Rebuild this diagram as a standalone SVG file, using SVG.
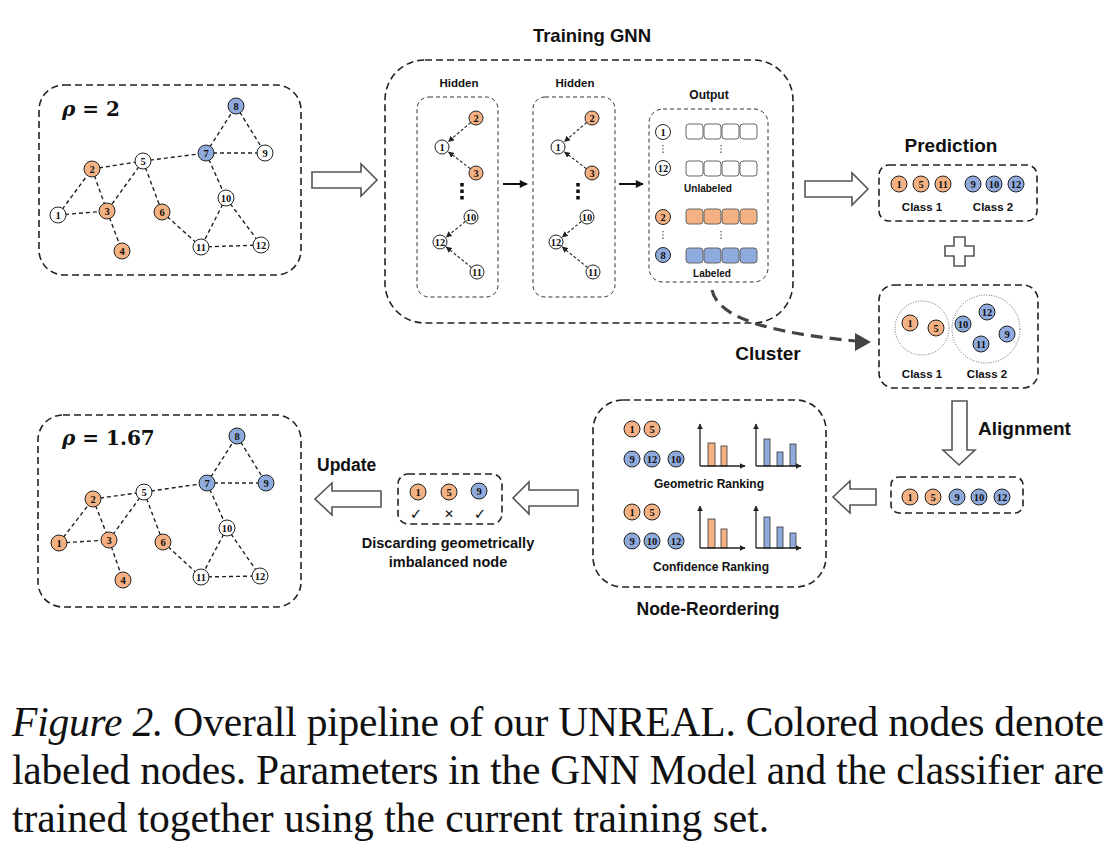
<svg xmlns="http://www.w3.org/2000/svg" width="1116" height="854" viewBox="0 0 1116 854">
<defs>
<style>
.box{fill:none;stroke:#222;stroke-width:1.6;stroke-dasharray:7 4}
.sbox{fill:none;stroke:#333;stroke-width:1;stroke-dasharray:4 3}
.edge{stroke:#222;stroke-width:1.4;stroke-dasharray:4 3;fill:none}
.harr{stroke:#222;stroke-width:1.1;stroke-dasharray:3 2;fill:none}
.nw{fill:#fff;stroke:#222;stroke-width:1}
.no{fill:#F4B183;stroke:#222;stroke-width:1}
.nb{fill:#8FAADC;stroke:#222;stroke-width:1}
.nl{font-family:"Liberation Serif","Times New Roman",serif;font-weight:bold;font-size:10.5px;text-anchor:middle;fill:#111}
.t{font-family:"Liberation Sans",Arial,sans-serif;font-weight:bold;fill:#111;text-anchor:middle}
.hollow{fill:#fff;stroke:#555;stroke-width:1.6;stroke-linejoin:miter}
.sqw{fill:#fff;stroke:#666;stroke-width:1}
.sqo{fill:#F4B183;stroke:#666;stroke-width:1}
.sqb{fill:#8FAADC;stroke:#666;stroke-width:1}
.dots{stroke:#444;stroke-width:1.2;stroke-dasharray:1.3 2}
.axis{stroke:#222;stroke-width:1.3;fill:none}
.bo{fill:#F4B183;stroke:#333;stroke-width:0.8}
.bb{fill:#8FAADC;stroke:#333;stroke-width:0.8}
.cap{font-family:"Liberation Serif","Times New Roman",serif;font-size:41.5px;fill:#111}
.rho{font-family:"DejaVu Serif","Liberation Serif",serif;font-weight:bold;font-size:20px;fill:#111}
.mk{font-family:"DejaVu Sans",sans-serif;font-weight:bold;text-anchor:middle;fill:#111}
</style>
<marker id="ah" viewBox="0 0 10 10" refX="9" refY="5" markerWidth="6" markerHeight="6" orient="auto" markerUnits="userSpaceOnUse"><path d="M0,0 L10,5 L0,10 z" fill="#222"/></marker>
<marker id="ah2" viewBox="0 0 10 10" refX="9" refY="5" markerWidth="9" markerHeight="8" orient="auto" markerUnits="userSpaceOnUse"><path d="M0,0 L10,5 L0,10 z" fill="#111"/></marker>
<marker id="ax" viewBox="0 0 10 10" refX="9" refY="5" markerWidth="6" markerHeight="6" orient="auto" markerUnits="userSpaceOnUse"><path d="M0,0 L10,5 L0,10 z" fill="#222"/></marker>
</defs>
<rect width="1116" height="854" fill="#fff"/>

<!-- boxes -->
<g id="graph-initial-box"><rect class="box" x="39" y="85" width="262" height="190" rx="25"/>
<text class="rho" x="62" y="116"><tspan font-style="italic">ρ</tspan> = 2</text></g>
<g id="graph-updated-box"><rect class="box" x="38" y="415" width="263" height="192" rx="25"/>
<text class="rho" x="62" y="445"><tspan font-style="italic">ρ</tspan> = 1.67</text></g>
<g id="training-gnn"><rect class="box" x="385" y="60" width="408" height="263" rx="40"/>
<text class="t" x="592" y="42" font-size="18.5">Training GNN</text></g>
<g id="hidden1"><rect class="sbox" x="417" y="97" width="81" height="200" rx="12"/>
<text class="t" x="459" y="87" font-size="11.5">Hidden</text></g>
<g id="hidden2"><rect class="sbox" x="533" y="97" width="82" height="200" rx="12"/>
<text class="t" x="575" y="87" font-size="11.5">Hidden</text></g>
<g id="output"><rect class="sbox" x="649" y="109" width="119" height="173" rx="14"/>
<text class="t" x="709" y="99" font-size="12">Output</text>
<rect class="sqw" x="686" y="124" width="17" height="15" rx="3"/><rect class="sqw" x="704" y="124" width="17" height="15" rx="3"/><rect class="sqw" x="722" y="124" width="17" height="15" rx="3"/><rect class="sqw" x="740" y="124" width="17" height="15" rx="3"/>
<rect class="sqw" x="686" y="161" width="17" height="15" rx="3"/><rect class="sqw" x="704" y="161" width="17" height="15" rx="3"/><rect class="sqw" x="722" y="161" width="17" height="15" rx="3"/><rect class="sqw" x="740" y="161" width="17" height="15" rx="3"/>
<rect class="sqo" x="686" y="209" width="17" height="15" rx="3"/><rect class="sqo" x="704" y="209" width="17" height="15" rx="3"/><rect class="sqo" x="722" y="209" width="17" height="15" rx="3"/><rect class="sqo" x="740" y="209" width="17" height="15" rx="3"/>
<rect class="sqb" x="686" y="248" width="17" height="15" rx="3"/><rect class="sqb" x="704" y="248" width="17" height="15" rx="3"/><rect class="sqb" x="722" y="248" width="17" height="15" rx="3"/><rect class="sqb" x="740" y="248" width="17" height="15" rx="3"/>
<line class="dots" x1="663" y1="145" x2="663" y2="155"/><line class="dots" x1="663" y1="231" x2="663" y2="241"/>
<line class="dots" x1="721" y1="145" x2="721" y2="155"/><line class="dots" x1="721" y1="231" x2="721" y2="241"/>
<text class="t" x="708" y="192" font-size="10">Unlabeled</text>
<text class="t" x="712" y="277" font-size="10">Labeled</text></g>
<g id="prediction"><rect class="box" x="879" y="165" width="158" height="56" rx="10"/>
<text class="t" x="951" y="152" font-size="19">Prediction</text>
<text class="t" x="922" y="211" font-size="11.5">Class 1</text>
<text class="t" x="993" y="211" font-size="11.5">Class 2</text></g>
<g id="plus"><path class="hollow" d="M954,237 H965 V246 H974 V256 H965 V266 H954 V256 H945 V246 H954 Z"/></g>
<g id="cluster"><rect class="box" x="879" y="285" width="159" height="103" rx="15"/>
<circle cx="922" cy="328" r="27" fill="none" stroke="#666" stroke-width="1" stroke-dasharray="1 1.5"/>
<circle cx="986" cy="329" r="34" fill="none" stroke="#666" stroke-width="1" stroke-dasharray="1 1.5"/>
<text class="t" x="922" y="378" font-size="11.5">Class 1</text>
<text class="t" x="987" y="378" font-size="11.5">Class 2</text></g>
<g id="cluster-label"><text class="t" x="768" y="360" font-size="19">Cluster</text></g>
<g id="alignment-label"><text class="t" x="978" y="435" font-size="19" style="text-anchor:start">Alignment</text></g>
<g id="aligned"><rect class="box" x="891" y="477" width="132" height="36" rx="8"/></g>
<g id="node-reordering"><rect class="box" x="593" y="400" width="233" height="187" rx="30"/>
<text class="t" x="708" y="615" font-size="17.5">Node-Reordering</text>
<text class="t" x="709" y="488" font-size="12">Geometric Ranking</text>
<text class="t" x="711" y="571" font-size="12">Confidence Ranking</text>
<rect class="bo" x="708" y="443" width="7" height="23"/><rect class="bo" x="721" y="446" width="6" height="20"/>
<rect class="bb" x="764" y="439" width="6" height="27"/><rect class="bb" x="777" y="452" width="6" height="14"/><rect class="bb" x="790" y="444" width="6" height="22"/>
<rect class="bo" x="708" y="519" width="7" height="29"/><rect class="bo" x="721" y="529" width="6" height="19"/>
<rect class="bb" x="764" y="517" width="6" height="31"/><rect class="bb" x="777" y="527" width="6" height="21"/><rect class="bb" x="790" y="533" width="6" height="15"/>
<path class="axis" d="M700,466 V424" marker-end="url(#ax)"/><path class="axis" d="M700,466 H745" marker-end="url(#ax)"/>
<path class="axis" d="M756,466 V424" marker-end="url(#ax)"/><path class="axis" d="M756,466 H801" marker-end="url(#ax)"/>
<path class="axis" d="M700,548 V506" marker-end="url(#ax)"/><path class="axis" d="M700,548 H745" marker-end="url(#ax)"/>
<path class="axis" d="M756,548 V506" marker-end="url(#ax)"/><path class="axis" d="M756,548 H801" marker-end="url(#ax)"/>
</g>
<g id="discarding"><rect class="box" x="398" y="474" width="104" height="50" rx="10"/>
<text class="mk" x="416" y="519" font-size="15">✓</text>
<text class="mk" x="449" y="518" font-size="12">✕</text>
<text class="mk" x="480" y="519" font-size="15">✓</text>
<text class="t" x="448" y="548" font-size="14.5">Discarding geometrically</text>
<text class="t" x="448" y="567" font-size="14.5">imbalanced node</text></g>
<g id="update-label"><text class="t" x="317" y="471" font-size="17.5" style="text-anchor:start">Update</text></g>

<!-- connectors -->
<g id="connectors">
<g id="edges-initial">
<line class="edge" x1="58" y1="215" x2="92" y2="169"/><line class="edge" x1="58" y1="215" x2="107" y2="211"/>
<line class="edge" x1="92" y1="169" x2="107" y2="211"/><line class="edge" x1="92" y1="169" x2="143" y2="161"/>
<line class="edge" x1="143" y1="161" x2="107" y2="211"/><line class="edge" x1="143" y1="161" x2="162" y2="212"/>
<line class="edge" x1="143" y1="161" x2="206" y2="153"/><line class="edge" x1="107" y1="211" x2="122" y2="251"/>
<line class="edge" x1="162" y1="212" x2="201" y2="247"/><line class="edge" x1="206" y1="153" x2="236" y2="106"/>
<line class="edge" x1="236" y1="106" x2="265" y2="153"/><line class="edge" x1="206" y1="153" x2="265" y2="153"/>
<line class="edge" x1="206" y1="153" x2="226" y2="198"/><line class="edge" x1="226" y1="198" x2="201" y2="247"/>
<line class="edge" x1="226" y1="198" x2="261" y2="245"/><line class="edge" x1="201" y1="247" x2="261" y2="245"/>
</g>
<g id="edges-updated">
<line class="edge" x1="59" y1="543" x2="93" y2="499"/><line class="edge" x1="59" y1="543" x2="109" y2="540"/>
<line class="edge" x1="93" y1="499" x2="109" y2="540"/><line class="edge" x1="93" y1="499" x2="144" y2="492"/>
<line class="edge" x1="144" y1="492" x2="109" y2="540"/><line class="edge" x1="144" y1="492" x2="163" y2="542"/>
<line class="edge" x1="144" y1="492" x2="207" y2="483"/><line class="edge" x1="109" y1="540" x2="123" y2="580"/>
<line class="edge" x1="163" y1="542" x2="201" y2="577"/><line class="edge" x1="207" y1="483" x2="237" y2="436"/>
<line class="edge" x1="237" y1="436" x2="266" y2="483"/><line class="edge" x1="207" y1="483" x2="266" y2="483"/>
<line class="edge" x1="207" y1="483" x2="227" y2="528"/><line class="edge" x1="227" y1="528" x2="201" y2="577"/>
<line class="edge" x1="227" y1="528" x2="260" y2="576"/><line class="edge" x1="201" y1="577" x2="260" y2="576"/>
</g>
<g id="hidden-arrows-1">
<line class="harr" x1="470.7" y1="122.5" x2="448.5" y2="141.5" marker-end="url(#ah)"/>
<line class="harr" x1="470.4" y1="168.7" x2="448.6" y2="152" marker-end="url(#ah)"/>
<line class="harr" x1="465.5" y1="221.4" x2="446.3" y2="237" marker-end="url(#ah)"/>
<line class="harr" x1="471.6" y1="267.6" x2="446.3" y2="247" marker-end="url(#ah)"/>
<line x1="462" y1="183" x2="462" y2="201" stroke="#111" stroke-width="3.5" stroke-dasharray="3.5 3"/>
</g>
<g id="hidden-arrows-2" transform="translate(116,0)">
<line class="harr" x1="470.7" y1="122.5" x2="448.5" y2="141.5" marker-end="url(#ah)"/>
<line class="harr" x1="470.4" y1="168.7" x2="448.6" y2="152" marker-end="url(#ah)"/>
<line class="harr" x1="465.5" y1="221.4" x2="446.3" y2="237" marker-end="url(#ah)"/>
<line class="harr" x1="471.6" y1="267.6" x2="446.3" y2="247" marker-end="url(#ah)"/>
<line x1="462" y1="183" x2="462" y2="201" stroke="#111" stroke-width="3.5" stroke-dasharray="3.5 3"/>
</g>
<line x1="503" y1="184" x2="527" y2="184" stroke="#111" stroke-width="2" marker-end="url(#ah2)"/>
<line x1="619" y1="184" x2="643" y2="184" stroke="#111" stroke-width="2" marker-end="url(#ah2)"/>
<polygon class="hollow" points="312,172 361,172 361,164 377,180 361,196 361,188 312,188"/>
<polygon class="hollow" points="805,181 852,181 852,173 868,189 852,205 852,197 805,197"/>
<polygon class="hollow" points="952,401 967,401 967,450 975,450 959,465 943,450 952,450"/>
<polygon class="hollow" points="876,489 850,489 850,481 833,497 850,513 850,505 876,505"/>
<polygon class="hollow" points="578,490 529,490 529,482 513,498 529,514 529,506 578,506"/>
<polygon class="hollow" points="381,491 332,491 332,483 315,499 332,515 332,507 381,507"/>
<path d="M712,290 C718,318 770,333 856,341" fill="none" stroke="#444" stroke-width="3.2" stroke-dasharray="12 7"/>
<polygon points="871,342 855,333 855,351" fill="#444"/>
</g>

<!-- nodes initial graph -->
<g id="g1-n1"><circle class="nw" cx="58" cy="215" r="8"/><text class="nl" x="58" y="218.5">1</text></g>
<g id="g1-n2"><circle class="no" cx="92" cy="169" r="8"/><text class="nl" x="92" y="172.5">2</text></g>
<g id="g1-n3"><circle class="no" cx="107" cy="211" r="8"/><text class="nl" x="107" y="214.5">3</text></g>
<g id="g1-n4"><circle class="no" cx="122" cy="251" r="8"/><text class="nl" x="122" y="254.5">4</text></g>
<g id="g1-n5"><circle class="nw" cx="143" cy="161" r="8"/><text class="nl" x="143" y="164.5">5</text></g>
<g id="g1-n6"><circle class="no" cx="162" cy="212" r="8"/><text class="nl" x="162" y="215.5">6</text></g>
<g id="g1-n7"><circle class="nb" cx="206" cy="153" r="8"/><text class="nl" x="206" y="156.5">7</text></g>
<g id="g1-n8"><circle class="nb" cx="236" cy="106" r="8"/><text class="nl" x="236" y="109.5">8</text></g>
<g id="g1-n9"><circle class="nw" cx="265" cy="153" r="8"/><text class="nl" x="265" y="156.5">9</text></g>
<g id="g1-n10"><circle class="nw" cx="226" cy="198" r="8"/><text class="nl" x="226" y="201.5">10</text></g>
<g id="g1-n11"><circle class="nw" cx="201" cy="247" r="8"/><text class="nl" x="201" y="250.5">11</text></g>
<g id="g1-n12"><circle class="nw" cx="261" cy="245" r="8"/><text class="nl" x="261" y="248.5">12</text></g>

<!-- nodes updated graph -->
<g id="g2-n1"><circle class="no" cx="59" cy="543" r="8"/><text class="nl" x="59" y="546.5">1</text></g>
<g id="g2-n2"><circle class="no" cx="93" cy="499" r="8"/><text class="nl" x="93" y="502.5">2</text></g>
<g id="g2-n3"><circle class="no" cx="109" cy="540" r="8"/><text class="nl" x="109" y="543.5">3</text></g>
<g id="g2-n4"><circle class="no" cx="123" cy="580" r="8"/><text class="nl" x="123" y="583.5">4</text></g>
<g id="g2-n5"><circle class="nw" cx="144" cy="492" r="8"/><text class="nl" x="144" y="495.5">5</text></g>
<g id="g2-n6"><circle class="no" cx="163" cy="542" r="8"/><text class="nl" x="163" y="545.5">6</text></g>
<g id="g2-n7"><circle class="nb" cx="207" cy="483" r="8"/><text class="nl" x="207" y="486.5">7</text></g>
<g id="g2-n8"><circle class="nb" cx="237" cy="436" r="8"/><text class="nl" x="237" y="439.5">8</text></g>
<g id="g2-n9"><circle class="nb" cx="266" cy="483" r="8"/><text class="nl" x="266" y="486.5">9</text></g>
<g id="g2-n10"><circle class="nw" cx="227" cy="528" r="8"/><text class="nl" x="227" y="531.5">10</text></g>
<g id="g2-n11"><circle class="nw" cx="201" cy="577" r="8"/><text class="nl" x="201" y="580.5">11</text></g>
<g id="g2-n12"><circle class="nw" cx="260" cy="576" r="8"/><text class="nl" x="260" y="579.5">12</text></g>

<!-- hidden layer nodes -->
<g id="h1-nodes">
<circle class="no" cx="476" cy="118" r="7"/><text class="nl" x="476" y="121.5">2</text>
<circle class="nw" cx="442" cy="147" r="7"/><text class="nl" x="442" y="150.5">1</text>
<circle class="no" cx="476" cy="173" r="7"/><text class="nl" x="476" y="176.5">3</text>
<circle class="nw" cx="471" cy="217" r="7"/><text class="nl" x="471" y="220.5" font-size="9.5">10</text>
<circle class="nw" cx="440" cy="242" r="7"/><text class="nl" x="440" y="245.5" font-size="9.5">12</text>
<circle class="nw" cx="477" cy="272" r="7"/><text class="nl" x="477" y="275.5" font-size="9.5">11</text>
</g>
<g id="h2-nodes" transform="translate(116,0)">
<circle class="no" cx="476" cy="118" r="7"/><text class="nl" x="476" y="121.5">2</text>
<circle class="nw" cx="442" cy="147" r="7"/><text class="nl" x="442" y="150.5">1</text>
<circle class="no" cx="476" cy="173" r="7"/><text class="nl" x="476" y="176.5">3</text>
<circle class="nw" cx="471" cy="217" r="7"/><text class="nl" x="471" y="220.5" font-size="9.5">10</text>
<circle class="nw" cx="440" cy="242" r="7"/><text class="nl" x="440" y="245.5" font-size="9.5">12</text>
<circle class="nw" cx="477" cy="272" r="7"/><text class="nl" x="477" y="275.5" font-size="9.5">11</text>
</g>
<g id="out-nodes">
<circle class="nw" cx="663" cy="132" r="7.5"/><text class="nl" x="663" y="135.5">1</text>
<circle class="nw" cx="663" cy="168" r="7.5"/><text class="nl" x="663" y="171.5" font-size="9.5">12</text>
<circle class="no" cx="663" cy="217" r="7.5"/><text class="nl" x="663" y="220.5">2</text>
<circle class="nb" cx="663" cy="255" r="7.5"/><text class="nl" x="663" y="258.5">8</text>
</g>
<g id="pred-nodes">
<circle class="no" cx="899" cy="184" r="8"/><text class="nl" x="899" y="187.5">1</text>
<circle class="no" cx="921" cy="184" r="8"/><text class="nl" x="921" y="187.5">5</text>
<circle class="no" cx="943" cy="184" r="8"/><text class="nl" x="943" y="187.5">11</text>
<circle class="nb" cx="973" cy="184" r="8"/><text class="nl" x="973" y="187.5">9</text>
<circle class="nb" cx="994" cy="184" r="8"/><text class="nl" x="994" y="187.5">10</text>
<circle class="nb" cx="1016" cy="184" r="8"/><text class="nl" x="1016" y="187.5">12</text>
</g>
<g id="cluster-nodes">
<circle class="no" cx="910" cy="323" r="8"/><text class="nl" x="910" y="326.5">1</text>
<circle class="no" cx="936" cy="328" r="8"/><text class="nl" x="936" y="331.5">5</text>
<circle class="nb" cx="963" cy="324" r="8"/><text class="nl" x="963" y="327.5">10</text>
<circle class="nb" cx="987" cy="312" r="8"/><text class="nl" x="987" y="315.5">12</text>
<circle class="nb" cx="1007" cy="334" r="8"/><text class="nl" x="1007" y="337.5">9</text>
<circle class="nb" cx="981" cy="344" r="8"/><text class="nl" x="981" y="347.5">11</text>
</g>
<g id="aligned-nodes">
<circle class="no" cx="910" cy="497" r="8"/><text class="nl" x="910" y="500.5">1</text>
<circle class="no" cx="933" cy="497" r="8"/><text class="nl" x="933" y="500.5">5</text>
<circle class="nb" cx="957" cy="497" r="8"/><text class="nl" x="957" y="500.5">9</text>
<circle class="nb" cx="979" cy="497" r="8"/><text class="nl" x="979" y="500.5">10</text>
<circle class="nb" cx="1002" cy="497" r="8"/><text class="nl" x="1002" y="500.5">12</text>
</g>
<g id="reorder-nodes">
<circle class="no" cx="632" cy="429" r="8"/><text class="nl" x="632" y="432.5">1</text>
<circle class="no" cx="652" cy="429" r="8"/><text class="nl" x="652" y="432.5">5</text>
<circle class="nb" cx="632" cy="459" r="8"/><text class="nl" x="632" y="462.5">9</text>
<circle class="nb" cx="652" cy="459" r="8"/><text class="nl" x="652" y="462.5">12</text>
<circle class="nb" cx="676" cy="459" r="8"/><text class="nl" x="676" y="462.5">10</text>
<circle class="no" cx="632" cy="512" r="8"/><text class="nl" x="632" y="515.5">1</text>
<circle class="no" cx="652" cy="512" r="8"/><text class="nl" x="652" y="515.5">5</text>
<circle class="nb" cx="632" cy="541" r="8"/><text class="nl" x="632" y="544.5">9</text>
<circle class="nb" cx="652" cy="541" r="8"/><text class="nl" x="652" y="544.5">10</text>
<circle class="nb" cx="676" cy="541" r="8"/><text class="nl" x="676" y="544.5">12</text>
</g>
<g id="discard-nodes">
<circle class="no" cx="418" cy="492" r="8"/><text class="nl" x="418" y="495.5">1</text>
<circle class="no" cx="449" cy="492" r="8"/><text class="nl" x="449" y="495.5">5</text>
<circle class="nb" cx="479" cy="491" r="8"/><text class="nl" x="479" y="494.5">9</text>
</g>

<g id="caption">
<text class="cap" x="12" y="736" textLength="1092" lengthAdjust="spacing"><tspan font-style="italic">Figure 2.</tspan> Overall pipeline of our UNREAL. Colored nodes denote</text>
<text class="cap" x="12" y="784" textLength="1092" lengthAdjust="spacing">labeled nodes. Parameters in the GNN Model and the classifier are</text>
<text class="cap" x="12" y="832">trained together using the current training set.</text>
</g>
</svg>
